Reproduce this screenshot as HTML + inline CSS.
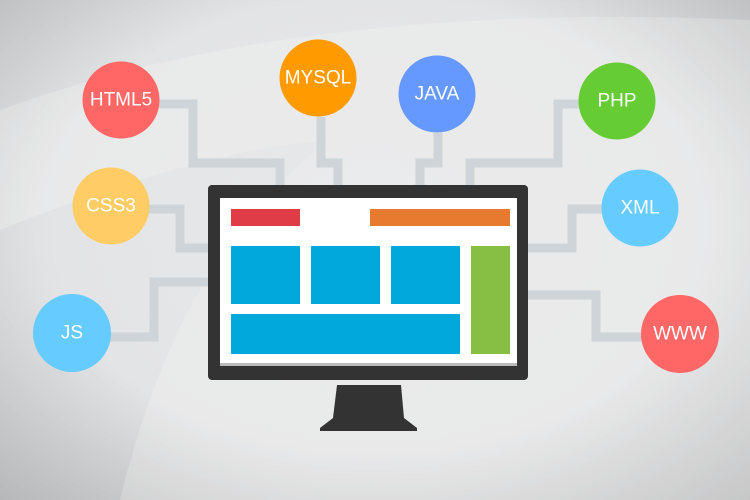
<!DOCTYPE html>
<html><head><meta charset="utf-8"><style>
html,body{margin:0;padding:0;width:750px;height:500px;overflow:hidden}
body{background:radial-gradient(ellipse at 50% 45%,#e8e9eb 0%,#e3e4e6 60%,#cfd0d2 100%)}
svg{display:block}
text{font-family:"Liberation Sans",sans-serif;font-size:19px;fill:#fff;text-anchor:middle;dominant-baseline:central}
</style></head><body>
<svg width="750" height="500" viewBox="0 0 750 500">
<defs>
<radialGradient id="v" cx="50%" cy="45%" r="75%">
<stop offset="0.6" stop-color="#000" stop-opacity="0"/>
<stop offset="1" stop-color="#000" stop-opacity="0.12"/>
</radialGradient>
</defs>
<path d="M0 110 Q300 0 750 20 L750 500 L120 500 Q180 250 330 140 Q200 150 0 230 Z" fill="#eceded" opacity="0.6"/>
<rect width="750" height="500" fill="url(#v)"/>
<g fill="none" stroke="#cfd4d8" stroke-width="9">
<polyline points="159,104 193,104 193,163 280,163 280,186"/>
<polyline points="321,117 321,163 338,163 338,186"/>
<polyline points="438,133 438,163 420,163 420,186"/>
<polyline points="470,186 470,163 558,163 558,104 580,104"/>
<polyline points="602,209 572,209 572,248 527,248"/>
<polyline points="527,295 596,295 596,337 642,337"/>
<polyline points="148,209 180,209 180,248 209,248"/>
<polyline points="110,337 154,337 154,282 209,282"/>
</g>
<rect x="208" y="185" width="320" height="195" rx="4" fill="#333"/>
<rect x="220" y="198" width="297" height="168" fill="#fff"/>
<rect x="220" y="363" width="297" height="3" fill="#bbb"/>
<path d="M337 385 L401 385 L404 418 L417 428 L417 431 L320 431 L320 428 L333 418 Z" fill="#333"/>
<rect x="231" y="209" width="69" height="17" fill="#e03c45"/>
<rect x="370" y="209" width="140" height="17" fill="#e87a30"/>
<rect x="231" y="246" width="69" height="58" fill="#00a8dc"/>
<rect x="311" y="246" width="69" height="58" fill="#00a8dc"/>
<rect x="391" y="246" width="69" height="58" fill="#00a8dc"/>
<rect x="231" y="314" width="229" height="40" fill="#00a8dc"/>
<rect x="471" y="246" width="39" height="108" fill="#86bf43"/>
<circle cx="121" cy="100" r="38.5" fill="#ff6666"/><text x="121" y="100">HTML5</text>
<circle cx="318" cy="78" r="38.5" fill="#ff9a00"/><text x="318" y="78">MYSQL</text>
<circle cx="111" cy="206" r="38.5" fill="#ffcc66"/><text x="111" y="206">CSS3</text>
<circle cx="437" cy="94" r="38.5" fill="#6699ff"/><text x="437" y="94">JAVA</text>
<circle cx="617" cy="101" r="38.5" fill="#66cc33"/><text x="617" y="101">PHP</text>
<circle cx="640" cy="208" r="38.5" fill="#66ccff"/><text x="640" y="208">XML</text>
<circle cx="72" cy="333" r="39" fill="#66ccff"/><text x="72" y="333">JS</text>
<circle cx="680" cy="334" r="39" fill="#ff6666"/><text x="680" y="334">WWW</text>
</svg>
</body></html>
